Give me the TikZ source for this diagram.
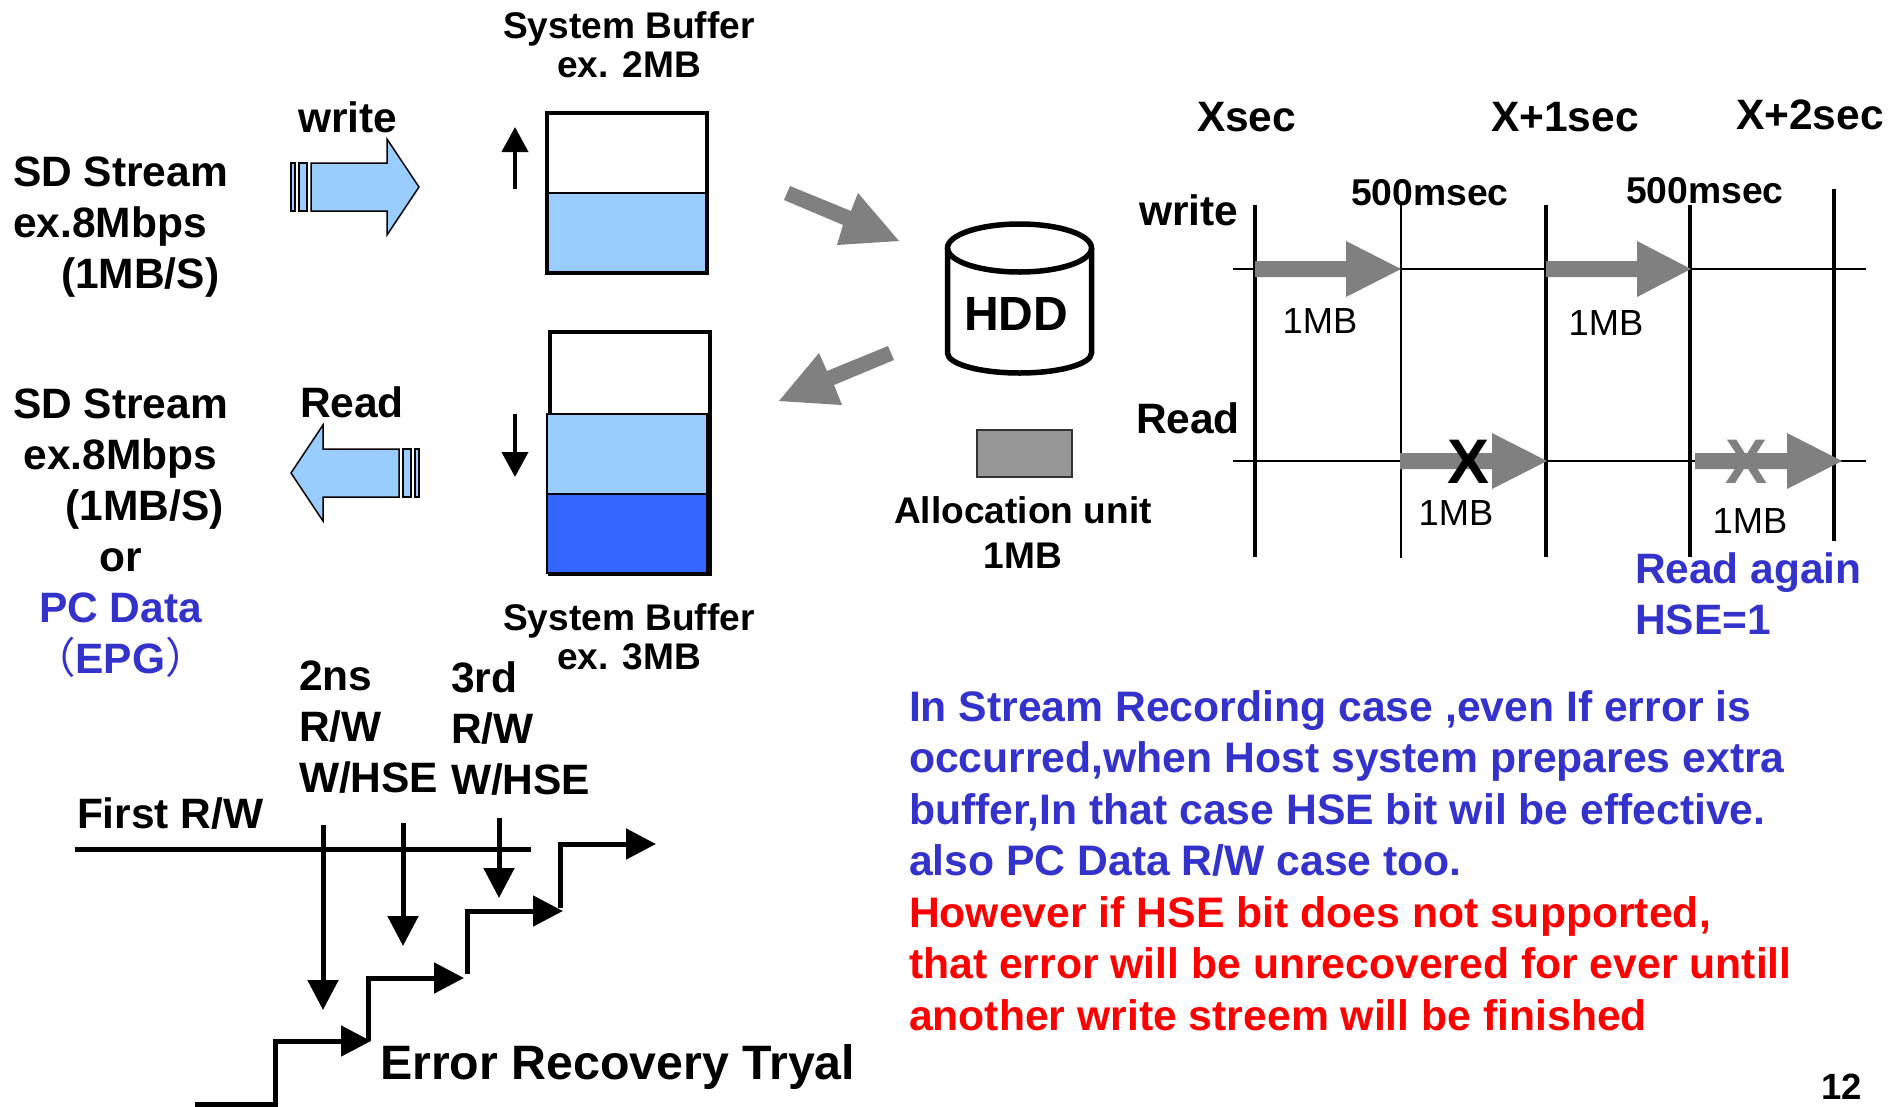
\documentclass[tikz,border=0pt]{standalone}
\usepackage{fontspec}
\setmainfont{Liberation Sans}
\newfontfamily\cjkparen{Noto Sans CJK SC}
\usetikzlibrary{arrows.meta}
\definecolor{lightbl}{HTML}{99CCFF}
\definecolor{darkbl}{HTML}{3366FF}
\definecolor{txtbl}{HTML}{3333CC}
\definecolor{arrgray}{HTML}{808080}
\definecolor{allocgray}{HTML}{969696}
\tikzset{
  lbl/.style={inner sep=0pt,outer sep=0pt,anchor=base west},
  bold42/.style={lbl,font=\fontsize{42.5}{51}\selectfont\bfseries,align=left},
  bold37/.style={lbl,font=\fontsize{37.1}{39}\selectfont\bfseries,align=center,anchor=base},
  ms/.style={lbl,font=\fontsize{37.3}{39}\selectfont\bfseries},
  mb/.style={inner sep=0pt,font=\fontsize{36.3}{40}\selectfont},
  para/.style={bold42,font=\fontsize{42.7}{51.3}\selectfont\bfseries},
  bufline/.style={draw=black,line width=3.5pt},
  thin/.style={draw=black,line width=1.5pt},
  blockarrow/.style={draw=black,line width=1.5pt,fill=lightbl},
  tick/.style={draw=black,line width=3.2pt},
  axisline/.style={draw=black,line width=2pt},
  smallarrow/.style={draw=black,line width=4pt,-{Triangle[length=25pt,width=26pt]}},
  recarrow/.style={draw=black,line width=5pt,-{Triangle[length=30pt,width=30pt]}},
  xmark/.style={inner sep=0pt,font=\fontsize{63}{63}\selectfont\bfseries},
}
\newcommand{\timearrow}[4]{% start, head base, tip, y
  \fill[arrgray] (#1,#4-8) -- (#2,#4-8) -- (#2,#4-28) -- (#3,#4) -- (#2,#4+28) -- (#2,#4+8) -- (#1,#4+8) -- cycle;}
\begin{document}
\begin{tikzpicture}[x=1pt,y=-1pt]
\useasboundingbox (0,0) rectangle (1904,1106);
\fill[white] (0,0) rectangle (1904,1106);

% left texts
\node[bold42] (sd1) at (13,288) {SD Stream\\ex.8Mbps\\\hspace*{48pt}(1MB/S)};
\node[bold42,anchor=base,align=center] (sd2) at (120.5,673) {SD Stream\\ex.8Mbps\\\hspace*{48pt}(1MB/S)\\or\\\textcolor{txtbl}{PC Data}\\\textcolor{txtbl}{{\mdseries\cjkparen （}EPG{\mdseries\cjkparen ）}}};
\node[bold42] (wr) at (298,132) {write};
\node[bold42] (rd) at (300,417) {Read};

% block arrows
\draw[blockarrow] (311,163) -- (387,163) -- (387,139) -- (419,187) -- (387,235) -- (387,211) -- (311,211) -- cycle;
\draw[blockarrow] (291,163) rectangle (295,211);
\draw[blockarrow] (299,163) rectangle (307,211);
\draw[blockarrow] (291,473) -- (323,425) -- (323,449) -- (399,449) -- (399,497) -- (323,497) -- (323,521) -- cycle;
\draw[blockarrow] (403,449) rectangle (411,497);
\draw[blockarrow] (415,449) rectangle (419,497);

% buffers
\node[bold37] (sb1) at (629,77) {System Buffer\\ex. 2MB};
\filldraw[fill=white,bufline] (547,113) rectangle (707,273);
\fill[lightbl] (547,193) rectangle (707,273);
\draw[thin] (547,193) -- (707,193);
\draw[bufline] (547,113) rectangle (707,273);
\filldraw[fill=white,bufline] (550,332) rectangle (710,574);
\filldraw[fill=lightbl,thin] (547,414) rectangle (707,494);
\filldraw[fill=darkbl,thin] (547,494) rectangle (707,573);
\node[bold37] (sb2) at (629,669) {System Buffer\\ex. 3MB};
\coordinate (upa) at (515,189); \coordinate (upb) at (515,127);
\draw[smallarrow] (upa) -- (upb);
\coordinate (dna) at (515,414); \coordinate (dnb) at (515,477);
\draw[smallarrow] (dna) -- (dnb);

% big gray arrows
\fill[arrgray] (790,186) -- (851,211) -- (858,193) -- (899,241) -- (837,245) -- (843,225) -- (784,200) -- cycle;
\fill[arrgray] (888,346) -- (827,371) -- (819,353) -- (779,401) -- (842,405) -- (834,385) -- (894,360) -- cycle;

% HDD
\draw[black,line width=5.5pt] (1019.5,248) ellipse [x radius=72pt,y radius=24pt];
\draw[black,line width=5.5pt] (947.5,248) -- (947.5,353) arc[start angle=180,end angle=360,x radius=72pt,y radius=20pt] -- (1091.5,248);
\node[inner sep=0pt,font=\fontsize{48}{48}\selectfont\bfseries] (hdd) at (1016,314) {HDD};
\draw[fill=allocgray,draw=black!80,line width=1.5pt] (977,430) rectangle (1072,477);
\node[bold37,font=\fontsize{37.1}{45}\selectfont\bfseries] (au) at (1023,568) {Allocation unit\\1MB};

% timeline
\node[bold42] (t0) at (1197,131) {Xsec};
\node[bold42] (t1) at (1491,131) {X+1sec};
\node[bold42] (t2) at (1736,129) {X+2sec};
\node[ms] (m1) at (1351,205) {500msec};
\node[ms] (m2) at (1626,203) {500msec};
\node[bold42] (w2) at (1139,225) {write};
\node[bold42] (r2) at (1136,433) {Read};
\coordinate (h1a) at (1233,269); \coordinate (h1b) at (1866,269);
\coordinate (h2a) at (1233,461); \coordinate (h2b) at (1866,461);
\draw[axisline] (h1a) -- (h1b);
\draw[axisline] (h2a) -- (h2b);
\coordinate (v1a) at (1255,205); \coordinate (v1b) at (1255,557);
\coordinate (v2a) at (1401,205); \coordinate (v2b) at (1401,558);
\coordinate (v3a) at (1546,205); \coordinate (v3b) at (1546,557);
\coordinate (v4a) at (1690,205); \coordinate (v4b) at (1690,557);
\coordinate (v5a) at (1834,189); \coordinate (v5b) at (1834,541);
\draw[tick] (v1a) -- (v1b);
\draw[axisline] (v2a) -- (v2b);
\draw[tick] (v3a) -- (v3b);
\draw[tick] (v4a) -- (v4b);
\draw[tick] (v5a) -- (v5b);
\timearrow{1255}{1346}{1401}{269}
\timearrow{1546}{1637}{1691}{269}
\timearrow{1400}{1492}{1547}{461}
\timearrow{1695}{1787}{1842}{461}
\node[xmark] (x1) at (1468,462) {X};
\node[xmark,text=arrgray] (x2) at (1746,462) {X};
\node[mb] (mb1) at (1320,321) {1MB};
\node[mb] (mb2) at (1606,323) {1MB};
\node[mb] (mb3) at (1456,513) {1MB};
\node[mb] (mb4) at (1750,521) {1MB};
\node[bold42,text=txtbl] (again) at (1635,634) {Read again\\HSE=1};

% paragraph
\node[para,text=txtbl] (pb) at (909,875.5) {In Stream Recording case ,even If error is\\occurred,when Host system prepares extra\\buffer,In that case HSE bit wil be effective.\\also PC Data R/W case too.};
\node[para,text=red] (pr) at (909,1030) {However if HSE bit does not supported,\\that error will be unrecovered for ever untill\\another write streem will be finished};
\node[inner sep=0pt,anchor=base east,font=\fontsize{36.5}{36}\selectfont\bfseries] (pg) at (1862,1099) {12};

% error recovery
\node[bold42] (n2) at (299,792) {2ns\\R/W\\W/HSE};
\node[bold42] (n3) at (451,794.5) {3rd\\R/W\\W/HSE};
\node[bold42] (fr) at (77,828) {First R/W};
\node[lbl,font=\fontsize{48.3}{50}\selectfont\bfseries] (er) at (380,1079) {Error Recovery Tryal};
\coordinate (fa) at (75,849); \coordinate (fb) at (531,849);
\draw[black,line width=5pt] (fa) -- (fb);
\coordinate (a1) at (323,825); \coordinate (a1e) at (323,1010);
\coordinate (a2) at (403,823); \coordinate (a2e) at (403,946);
\coordinate (a3) at (499,818); \coordinate (a3e) at (499,898);
\draw[recarrow] (a1) -- (a1e);
\draw[recarrow] (a2) -- (a2e);
\draw[recarrow] (a3) -- (a3e);
\coordinate (s0) at (195,1104); \coordinate (s0b) at (275,1104); \coordinate (s0c) at (275,1041); \coordinate (s0d) at (371,1041);
\coordinate (s1) at (368,1041); \coordinate (s1c) at (368,978); \coordinate (s1d) at (464,978);
\coordinate (s2) at (467,974); \coordinate (s2c) at (467,911); \coordinate (s2d) at (563,911);
\coordinate (s3) at (560,908); \coordinate (s3c) at (560,844); \coordinate (s3d) at (656,844);
\draw[recarrow] (s0) -- (s0b) -- (s0c) -- (s0d);
\draw[recarrow] (s1) -- (s1c) -- (s1d);
\draw[recarrow] (s2) -- (s2c) -- (s2d);
\draw[recarrow] (s3) -- (s3c) -- (s3d);
\end{tikzpicture}
\end{document}
